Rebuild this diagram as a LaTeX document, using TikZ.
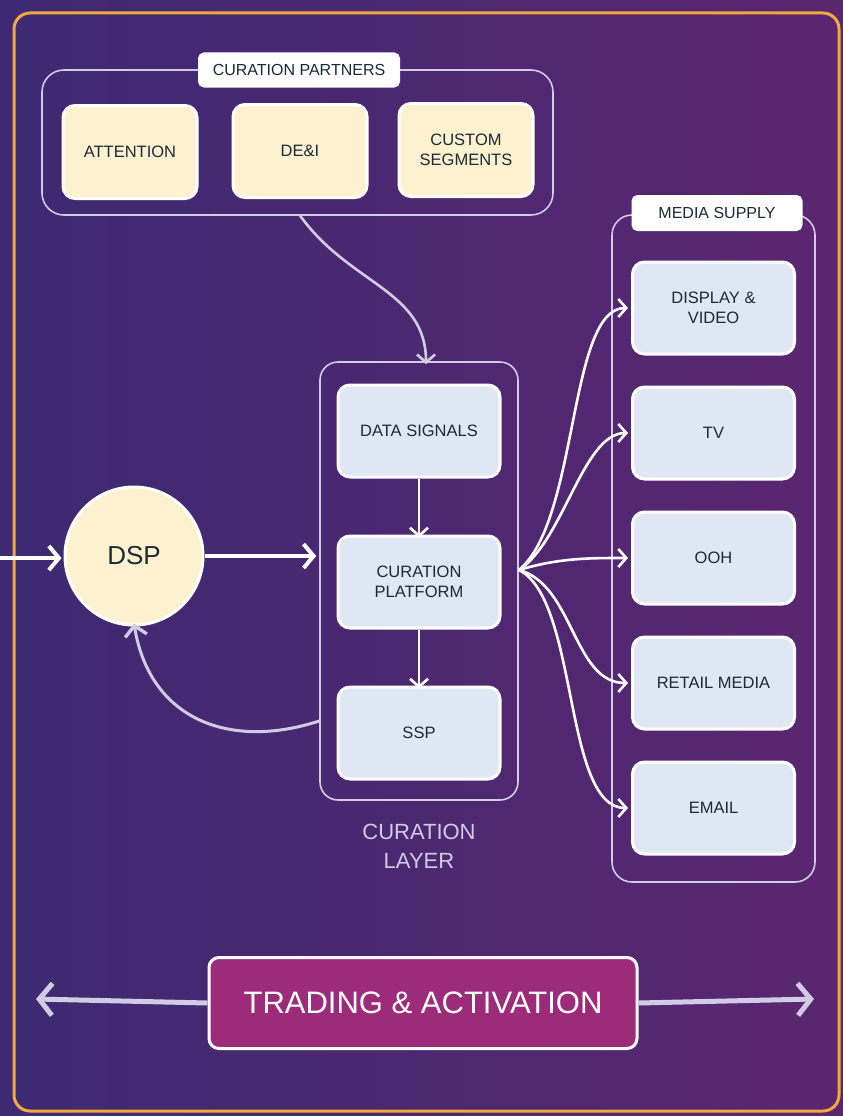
\documentclass[tikz,border=0pt]{standalone}
\usepackage{fontspec}
\setmainfont{Liberation Sans}
\usetikzlibrary{arrows.meta}
\definecolor{bgL}{HTML}{3D2A72}
\definecolor{bgR}{HTML}{5B2670}
\definecolor{frameor}{HTML}{F2A93B}
\definecolor{cream}{HTML}{FDF1D0}
\definecolor{paleblue}{HTML}{DFE7F5}
\definecolor{ink}{HTML}{1B2A35}
\definecolor{lav}{HTML}{D2CBE6}
\definecolor{magenta}{HTML}{9C2C7A}
\tikzset{
  cont/.style={draw=lav, line width=1.6pt, rounded corners=22pt, fill=none},
  ybox/.style={draw=white, line width=3pt, rounded corners=12pt, fill=cream, text=ink, font=\fontsize{16.5}{20}\selectfont, align=center, minimum width=134pt, minimum height=93pt},
  bbox/.style={draw=white, line width=3pt, rounded corners=12pt, fill=paleblue, text=ink, font=\fontsize{16.5}{20}\selectfont, align=center, minimum width=162pt, minimum height=92pt},
  tag/.style={draw=white, line width=2pt, rounded corners=5pt, fill=white, text=ink, font=\fontsize{16}{19}\selectfont, inner sep=0pt},
  warrow/.style={draw=white, line width=2.6pt, -{Straight Barb[length=8pt,width=18pt,line width=2.6pt]}},
  bigarrow/.style={draw=white, line width=4pt, -{Straight Barb[length=10pt,width=24pt,line width=4pt]}},
  larrow/.style={draw=lav, line width=3.4pt, -{Straight Barb[length=10pt,width=22pt,line width=3.4pt]}},
  tarrow/.style={draw=lav, line width=5pt, -{Straight Barb[length=13pt,width=32pt,line width=5pt]}},
}
\begin{document}
\begin{tikzpicture}[x=1pt,y=-1pt]
\shade[left color=bgL, right color=bgR] (0,0) rectangle (843,1116);
\useasboundingbox (0,0) rectangle (843,1116);
% outer orange frame
\draw[frameor, line width=3pt, rounded corners=16pt] (14,13) rectangle (839,1111);

% curation partners
\node[cont, minimum width=511pt, minimum height=145pt] (cp) at (297.5,142.5) {};
\node[tag, minimum width=200pt, minimum height=33pt] (cptag) at (299,70) {CURATION PARTNERS};
\node[ybox] (att) at (130,152) {ATTENTION};
\node[ybox] (dei) at (300,151) {DE\&I};
\node[ybox] (cus) at (466,150) {CUSTOM\\SEGMENTS};

% media supply
\node[cont, minimum width=203pt, minimum height=667pt, rounded corners=20pt] (ms) at (713.5,548.5) {};
\node[tag, minimum width=169pt, minimum height=34pt] (mstag) at (717,213) {MEDIA SUPPLY};
\node[bbox] (dv) at (713.5,308) {DISPLAY \&\\VIDEO};
\node[bbox] (tv) at (713.5,433) {TV};
\node[bbox] (ooh) at (713.5,558) {OOH};
\node[bbox] (rm) at (713.5,683) {RETAIL MEDIA};
\node[bbox] (em) at (713.5,808) {EMAIL};

% curation layer
\node[cont, minimum width=198pt, minimum height=438pt, rounded corners=18pt] (cl) at (419,581) {};
\node[text=lav, font=\fontsize{22}{29}\selectfont, align=center] (cllab) at (419,846) {CURATION\\LAYER};
\node[bbox] (ds) at (419,431) {DATA SIGNALS};
\node[bbox] (cpl) at (419,582) {CURATION\\PLATFORM};
\node[bbox] (ssp) at (419,733) {SSP};

% DSP
\node[circle, draw=white, line width=3pt, fill=cream, minimum size=138pt, text=ink, font=\fontsize{26}{30}\selectfont] (dsp) at (134,556) {DSP};

% trading
\node[draw=white, line width=3pt, rounded corners=10pt, fill=magenta, text=white, minimum width=428pt, minimum height=91pt, font=\fontsize{31}{36}\selectfont] (ta) at (423,1003) {TRADING \& ACTIVATION};
\coordinate (tl) at (36,999);
\coordinate (tr) at (814,999);
\coordinate (inL) at (0,558);

% connectors
\draw[bigarrow] (inL) -- ([xshift=-2pt]dsp.west |- inL);
\draw[bigarrow] (dsp.east) -- ([xshift=-3pt]dsp.east -| cl.west);
\draw[warrow, lav] (300,215.5) .. controls (350,285) and (426,290) .. ([xshift=7pt,yshift=-3pt]cl.north);
\draw[warrow] (ds.south) -- ([yshift=-3pt]cpl.north);
\draw[warrow] (cpl.south) -- ([yshift=-3pt]ssp.north);
\draw[larrow, line width=3pt] ([yshift=12pt]cl.west |- ssp) .. controls (230,750) and (150,720) .. ([yshift=3pt]dsp.south);

\coordinate (fan) at (519,570);
\draw[warrow] (fan) .. controls +(60,-50) and +(-60,0) .. ([xshift=-3pt]dv.west);
\draw[warrow] (fan) .. controls +(45,-30) and +(-45,0) .. ([xshift=-3pt]tv.west);
\draw[warrow] (fan) .. controls +(40,-12) and +(-40,0) .. ([xshift=-3pt]ooh.west);
\draw[warrow] (fan) .. controls +(55,15) and +(-55,0) .. ([xshift=-3pt]rm.west);
\draw[warrow] (fan) .. controls +(60,30) and +(-65,0) .. ([xshift=-3pt]em.west);

\draw[tarrow] (ta.west) -- (tl);
\draw[tarrow] (ta.east) -- (tr);
\end{tikzpicture}
\end{document}
